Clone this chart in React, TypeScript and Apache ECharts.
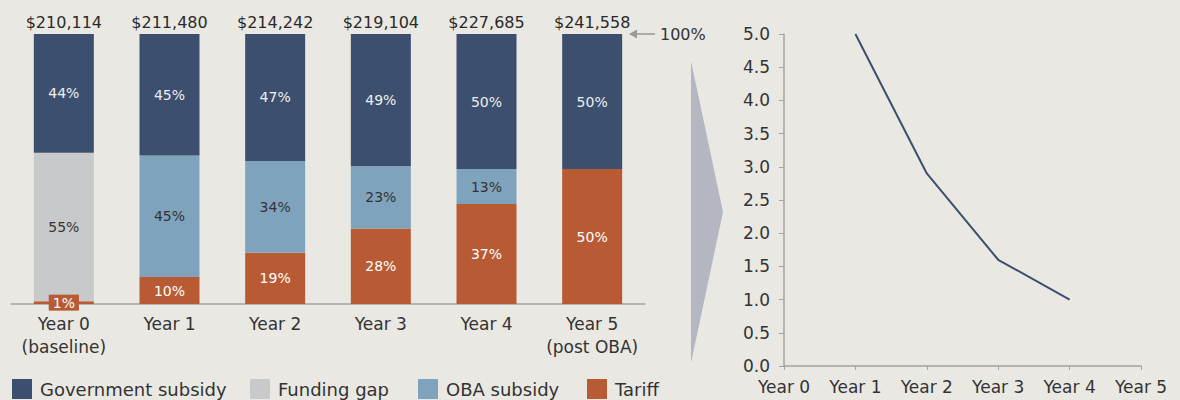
import React, { useEffect, useRef } from "react";
import * as echarts from "echarts";

const categories = ["Year 0\n(baseline)", "Year 1", "Year 2", "Year 3", "Year 4", "Year 5\n(post OBA)"];
const totals = ["$210,114", "$211,480", "$214,242", "$219,104", "$227,685", "$241,558"];
const tariff = [1, 10, 19, 28, 37, 50];
const fundingGap = [55, 0, 0, 0, 0, 0];
const obaSubsidy = [0, 45, 34, 23, 13, 0];
const govSubsidy = [44, 45, 47, 49, 50, 50];
const totalMarker = [100, 100, 100, 100, 100, 100];

const ratioYears = ["Year 0", "Year 1", "Year 2", "Year 3", "Year 4", "Year 5"];
const ratioValues: (number | null)[] = [null, 5.0, 2.9, 1.6, 1.0, null];

const BG = "#EAE8E3";
const TEXT = "#333333";
const AXIS = "#A3A3A3";
const FONT = "DejaVu Sans";
const C_GOV = "#3C4F6E";
const C_GAP = "#C8C9CB";
const C_OBA = "#7FA3BC";
const C_TAR = "#B85B35";

export default function App() {
  const ref = useRef<HTMLDivElement>(null);
  useEffect(() => {
    document.body.style.margin = "0";
    document.body.style.background = BG;
    const chart = echarts.init(ref.current!, null, { renderer: "svg" });
    const pct = (p: any) => (p.value ? p.value + "%" : "");
    const barLabel = (color: string) => ({
      show: true,
      position: "inside" as const,
      formatter: pct,
      color,
      fontFamily: FONT,
      fontSize: 14,
    });
    const legend = (name: string, left: number) => ({
      data: [name],
      left,
      top: 379,
      padding: 0,
      icon: "rect",
      itemWidth: 20,
      itemHeight: 20,
      selectedMode: false,
      textStyle: { color: TEXT, fontFamily: FONT, fontSize: 18, padding: [0, 0, 0, 3] },
    });
    chart.setOption({
      animation: false,
      backgroundColor: BG,
      textStyle: { fontFamily: FONT },
      legend: [
        legend("Government subsidy", 12),
        legend("Funding gap", 250),
        legend("OBA subsidy", 418),
        legend("Tariff", 587),
      ],
      grid: [
        { left: 11, right: 535, top: 34, bottom: 96, containLabel: false },
        { left: 784, right: 39, top: 34, bottom: 34, containLabel: false },
      ],
      xAxis: [
        {
          type: "category",
          gridIndex: 0,
          data: categories,
          axisLine: { lineStyle: { color: AXIS, width: 1.5 } },
          axisTick: { show: false },
          axisLabel: { color: TEXT, fontFamily: FONT, fontSize: 17, lineHeight: 23, margin: 8, interval: 0 },
        },
        {
          type: "category",
          gridIndex: 1,
          data: ratioYears,
          boundaryGap: false,
          axisLine: { lineStyle: { color: AXIS, width: 1.5 } },
          axisTick: { show: true, length: 4, lineStyle: { color: AXIS } },
          axisLabel: { color: TEXT, fontFamily: FONT, fontSize: 17, margin: 12, interval: 0 },
        },
      ],
      yAxis: [
        { type: "value", gridIndex: 0, min: 0, max: 100, show: false },
        {
          type: "value",
          gridIndex: 1,
          min: 0,
          max: 5,
          interval: 0.5,
          splitLine: { show: false },
          axisLine: { show: true, lineStyle: { color: AXIS, width: 1.5 } },
          axisTick: { show: true, length: 5, lineStyle: { color: AXIS } },
          axisLabel: {
            color: TEXT,
            fontFamily: FONT,
            fontSize: 17,
            margin: 14,
            formatter: (v: number) => v.toFixed(1),
          },
        },
      ],
      series: [
        {
          name: "Tariff",
          type: "bar",
          stack: "s",
          barWidth: 60,
          data: tariff,
          itemStyle: { color: C_TAR },
          label: { ...barLabel("#FFFFFF"), backgroundColor: C_TAR, padding: [1, 4] },
        },
        {
          name: "Funding gap",
          type: "bar",
          stack: "s",
          barWidth: 60,
          data: fundingGap,
          itemStyle: { color: C_GAP },
          label: barLabel(TEXT),
        },
        {
          name: "OBA subsidy",
          type: "bar",
          stack: "s",
          barWidth: 60,
          data: obaSubsidy,
          itemStyle: { color: C_OBA },
          label: barLabel(TEXT),
        },
        {
          name: "Government subsidy",
          type: "bar",
          stack: "s",
          barWidth: 60,
          data: govSubsidy,
          itemStyle: { color: C_GOV },
          label: barLabel("#EEEEEE"),
        },
        {
          name: "totals",
          type: "scatter",
          data: totalMarker,
          symbolSize: 0,
          itemStyle: { color: "rgba(0,0,0,0)" },
          label: {
            show: true,
            position: "top",
            distance: 4,
            formatter: (p: any) => totals[p.dataIndex],
            color: "#2A2A2A",
            opacity: 1,
            fontFamily: FONT,
            fontSize: 16,
          },
          labelLayout: { hideOverlap: false },
          z: 5,
        },
        {
          name: "ratio",
          type: "line",
          xAxisIndex: 1,
          yAxisIndex: 1,
          data: ratioValues,
          showSymbol: false,
          lineStyle: { color: "#3C4F6E", width: 2 },
          itemStyle: { color: "#3C4F6E" },
        },
      ],
      graphic: [
        {
          type: "line",
          shape: { x1: 634, y1: 34, x2: 655, y2: 34 },
          style: { stroke: "#999999", lineWidth: 1.5 },
        },
        {
          type: "polygon",
          shape: { points: [[629, 34], [637, 29.5], [637, 38.5]] },
          style: { fill: "#999999" },
        },
        {
          type: "text",
          x: 660,
          y: 34,
          style: {
            text: "100%",
            fill: TEXT,
            fontFamily: FONT,
            fontSize: 16,
            verticalAlign: "middle",
            align: "left",
          },
        },
        {
          type: "polygon",
          shape: { points: [[691, 61], [723, 212], [691, 363]] },
          style: { fill: "#B4B6C2" },
        },
      ],
    });
    return () => chart.dispose();
  }, []);
  return <div ref={ref} style={{ width: 1180, height: 400, background: BG }} />;
}
